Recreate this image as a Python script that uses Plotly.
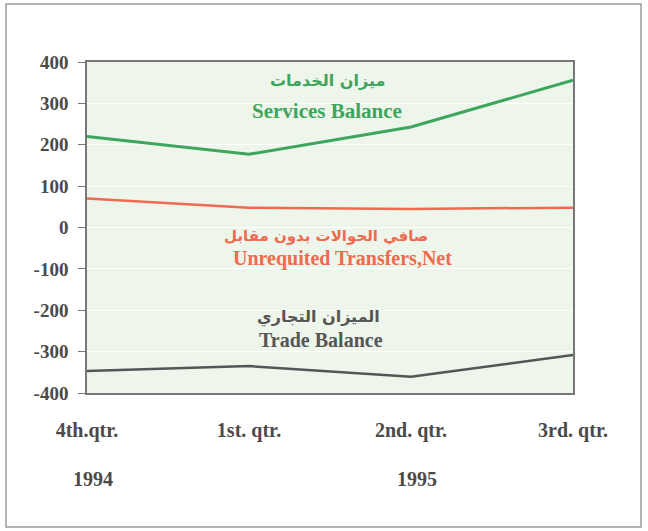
import plotly.graph_objects as go

quarters = ["4th.qtr.", "1st. qtr.", "2nd. qtr.", "3rd. qtr."]
years = ["1994", "1995"]
year_pos = [0, 2]
y_ticks = [400, 300, 200, 100, 0, -100, -200, -300, -400]

services = [220, 177, 243, 356]
transfers = [70, 48, 45, 48]
trade = [-347, -335, -361, -308]

GREEN = "#3ea55c"
RED = "#ef6a4e"
GREY = "#555555"
TXT = "#4a4a4a"
FONT = "Liberation Serif"
AR_FONT = "DejaVu Sans"

fig = go.Figure()
fig.add_trace(go.Scatter(x=quarters, y=services, mode="lines",
                         line=dict(color=GREEN, width=3)))
fig.add_trace(go.Scatter(x=quarters, y=transfers, mode="lines",
                         line=dict(color=RED, width=2.5)))
fig.add_trace(go.Scatter(x=quarters, y=trade, mode="lines",
                         line=dict(color=GREY, width=2.5)))

labels = [
    ("ميزان الخدمات", 327, 81, GREEN, AR_FONT, 16),
    ("Services Balance", 327, 111, GREEN, FONT, 21),
    ("صافي الحوالات بدون مقابل", 326, 236, RED, AR_FONT, 15),
    ("Unrequited Transfers,Net", 342, 258, RED, FONT, 20),
    ("الميزان التجاري", 318, 317, GREY, AR_FONT, 16),
    ("Trade Balance", 321, 340, GREY, FONT, 20),
]
# pixel positions -> paper coords of the plot area (87..573, 62..393)
for txt, px_, py_, col, fam, sz in labels:
    fig.add_annotation(
        text=f"<b>{txt}</b>",
        x=(px_ - 87) / 486, y=(393 - py_) / 331,
        xref="paper", yref="paper", xanchor="center", yanchor="middle",
        showarrow=False, font=dict(family=fam, size=sz, color=col),
    )

for yr, pos in zip(years, year_pos):
    fig.add_annotation(text=f"<b>{yr}</b>", x=pos, y=(393 - 479) / 331,
                       xref="x", yref="paper", xanchor="center", yanchor="middle",
                       xshift=6, showarrow=False,
                       font=dict(family=FONT, size=20, color=TXT))

fig.add_shape(type="rect", xref="paper", yref="paper",
              x0=(6 - 87) / 486, x1=(641 - 87) / 486,
              y0=(393 - 527) / 331, y1=(393 - 4) / 331,
              line=dict(color="#9a9a9a", width=1.5))

fig.update_xaxes(
    range=[0, 3], showgrid=False, showline=True, linecolor="#777777",
    linewidth=1.5, mirror=True, ticks="", ticklabelstandoff=18,
    tickfont=dict(family=FONT, size=20, color=TXT, weight="bold"),
)
fig.update_yaxes(
    range=[-400, 400], tickvals=y_ticks, ticktext=[str(v) for v in y_ticks],
    showgrid=True, gridcolor="#ffffff",
    gridwidth=1, zeroline=False, showline=True, linecolor="#777777",
    linewidth=1.5, mirror=True, ticks="outside", ticklen=7, tickcolor="#777777",
    ticklabelstandoff=6,
    tickfont=dict(family=FONT, size=19, color=TXT, weight="bold"),
)
fig.update_layout(
    width=648, height=531, showlegend=False,
    margin=dict(l=87, r=75, t=62, b=138, autoexpand=False),
    plot_bgcolor="#eef5eb", paper_bgcolor="#ffffff",
)

fig.write_html("out.html", config={"displayModeBar": False},
               post_script="document.body.style.margin='0';")
